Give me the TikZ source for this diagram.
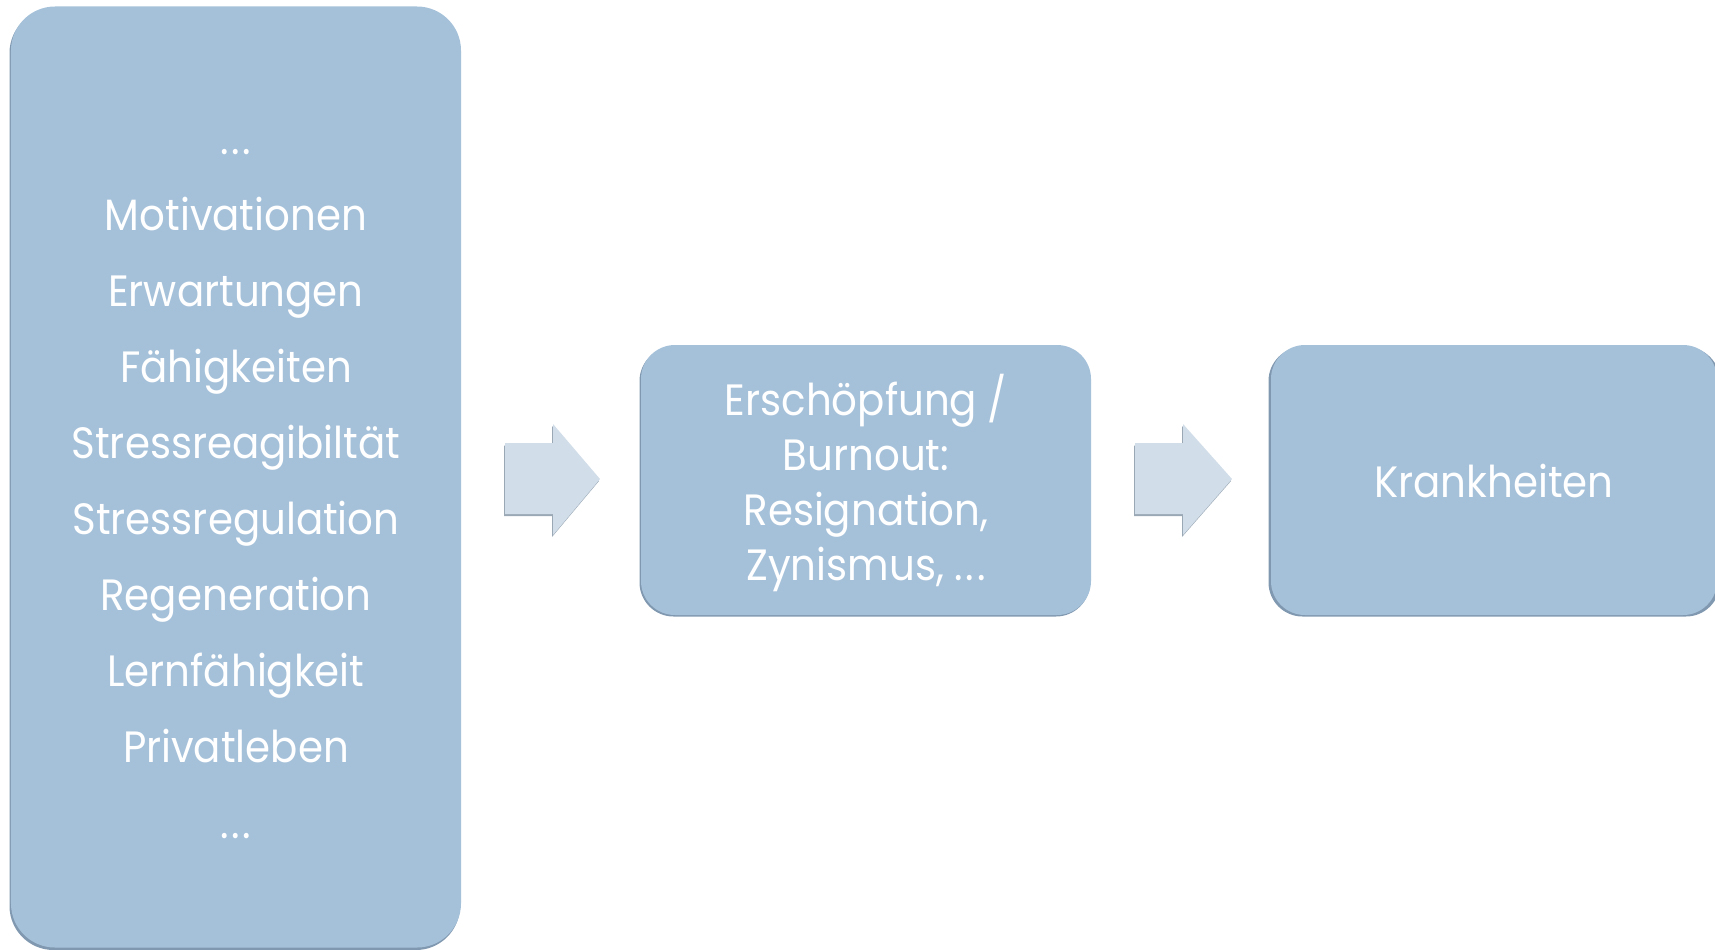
\documentclass[tikz,border=0pt]{standalone}
\usepackage{fontspec}
\setmainfont[FakeStretch=0.92]{Poppins}
\definecolor{boxfill}{HTML}{A5C1DA}
\definecolor{boxedge}{HTML}{8199B0}
\definecolor{arrowfill}{HTML}{D1DDE8}
\definecolor{arrowedge}{HTML}{9AA8B6}
\newcommand{\ellipsisdots}{.\kern0.06em.\kern0.06em.}
\tikzset{
  panel/.style={fill=boxfill, rounded corners=#1, inner sep=0pt},
  panelshadow/.style={fill=boxedge, rounded corners=#1},
  label/.style={text=white, font=\fontsize{44}{55}\selectfont, inner sep=0pt, anchor=base},
  flowarrow/.style={fill=arrowfill},
  flowarrowshadow/.style={fill=arrowedge}
}
\begin{document}
\begin{tikzpicture}[x=1bp,y=-1bp]
\useasboundingbox (0,0) rectangle (1715,949);

% left panel: influencing factors
\fill[panelshadow=44bp] (9.5,9) rectangle (460,950);
\node[panel=44bp, minimum width=450bp, minimum height=941bp] (factors) at (236,477) {};
\foreach \t [count=\i from 0] in {\ellipsisdots,Motivationen,Erwartungen,Fähigkeiten,Stressreagibiltät,Stressregulation,Regeneration,Lernfähigkeit,Privatleben,\ellipsisdots}
  \node[label] (f\i) at (factors.center |- 0,154+76*\i) {\t};

% middle panel: exhaustion / burnout
\fill[panelshadow=34bp] (639.5,347) rectangle (1090,616.5);
\node[panel=34bp, minimum width=450bp, minimum height=270bp] (burnout) at (866,480) {};
\foreach \t [count=\i from 0] in {Erschöpfung /,Burnout:,{Resignation,},{Zynismus, \ellipsisdots}}
  \node[label] (b\i) at (burnout.center |- 0,415+55*\i) {\t};

% right panel: illnesses
\fill[panelshadow=34bp] (1268.5,347) rectangle (1720,616.5);
\node[panel=34bp, minimum width=446bp, minimum height=270bp] (illness) at (1494,480) {};
\node[label] (k0) at (illness.center |- 0,497) {Krankheiten};

% block arrows between the panels
\fill[flowarrowshadow] (504,445.5) -- (552,445.5) -- (552,426) -- (599,481) -- (552,537) -- (552,516) -- (504,516) -- cycle;
\fill[flowarrow] (505,443) -- (553,443) -- (553,424) -- (600,479) -- (553,535) -- (553,514) -- (505,514) -- cycle;
\fill[flowarrowshadow] (1134,445.5) -- (1182,445.5) -- (1182,426) -- (1231,481) -- (1182,537) -- (1182,516) -- (1134,516) -- cycle;
\fill[flowarrow] (1135,443) -- (1183,443) -- (1183,424) -- (1232,479) -- (1183,535) -- (1183,514) -- (1135,514) -- cycle;
\end{tikzpicture}
\end{document}
